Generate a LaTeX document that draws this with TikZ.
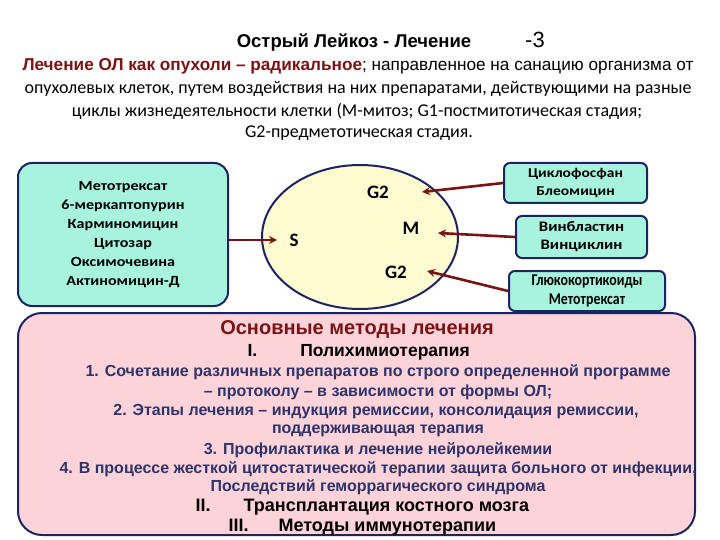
\documentclass[tikz,border=0pt]{standalone}
\usepackage{fontspec}
\setmainfont{Carlito}
\newfontfamily\arialfont{Liberation Sans}
\newfontfamily\boxfont[FakeStretch=1.15]{Carlito}
\newfontfamily\tightfont[FakeStretch=0.84]{Carlito}
\usetikzlibrary{arrows.meta}
\definecolor{navy}{RGB}{28,36,100}
\definecolor{aqua}{RGB}{168,243,222}
\definecolor{cellfill}{RGB}{255,252,210}
\definecolor{pinkfill}{RGB}{251,211,217}
\definecolor{darkred}{RGB}{122,20,20}
\definecolor{bluetext}{RGB}{46,52,105}

\begin{document}
\begin{tikzpicture}[x=1pt,y=-1pt,
    drug/.style={draw=navy, line width=2pt, fill=aqua, rounded corners=6pt, align=center,
      inner sep=0pt, font=\boxfont\bfseries\fontsize{14.5}{18}\selectfont},
    arr/.style={draw=darkred, line width=2.6pt, -{Stealth[length=8pt,width=8pt]}},
    phase/.style={font=\bfseries\fontsize{19}{19}\selectfont},
    para/.style={font=\fontsize{18}{18}\selectfont},
    method/.style={font=\arialfont\bfseries\fontsize{16}{16}\selectfont, text=bluetext}]
    \useasboundingbox (0,0) rectangle (720,540);
    \fill[white] (0,0) rectangle (720,540);

    % Title and intro text
    \node[font=\arialfont\bfseries\fontsize{18.5}{18.5}\selectfont] (title) at (354,43) {Острый Лейкоз - Лечение};
    \node[font=\arialfont\fontsize{22}{22}\selectfont] (num) at (535,40) {-3};
    \node[font=\arialfont\fontsize{17.2}{17.2}\selectfont] (l1) at (358,66)
      {\textcolor{darkred}{\bfseries Лечение ОЛ как опухоли – радикальное}; направленное на санацию организма от};
    \node[para] (l2) at (358,89) {опухолевых клеток, путем воздействия на них препаратами, действующими на разные};
    \node[para] (l3) at (357,111) {циклы жизнедеятельности клетки (М-митоз; G1-постмитотическая стадия;};
    \node[para] (l4) at (359,133) {G2-предметотическая стадия.};

    % Cell cycle
    \draw[navy, line width=2pt, fill=cellfill] (360,237) ellipse [x radius=98, y radius=72];
    \node[phase] (g2a) at (378,192) {G2};
    \node[phase] (m) at (411,228) {M};
    \node[phase] (s) at (294,240) {S};
    \node[phase] (g2b) at (396,272) {G2};

    % Drug boxes
    \node[drug, minimum width=210pt, minimum height=143pt, rounded corners=14pt,
      font=\boxfont\bfseries\fontsize{14}{19}\selectfont] (meds) at (123,234.5)
      {Метотрексат\\6-меркаптопурин\\Карминомицин\\Цитозар\\Оксимочевина\\Актиномицин-Д};
    \node[drug, minimum width=143pt, minimum height=40pt,
      font=\boxfont\bfseries\fontsize{13.5}{18}\selectfont] (cyc) at (575.5,183) {Циклофосфан\\Блеомицин};
    \node[drug, minimum width=131pt, minimum height=42pt] (vin) at (581.5,237) {Винбластин\\Винциклин};
    \node[drug, minimum width=156pt, minimum height=40pt,
      font=\tightfont\bfseries\fontsize{16.5}{19}\selectfont] (glu) at (587,291) {Глюкокортикоиды\\Метотрексат};

    % Arrows
    \coordinate (tS) at (277,240);
    \coordinate (tG2a) at (422,192);
    \coordinate (tM) at (438,233);
    \coordinate (tG2b) at (427,271);
    \draw[arr] (meds.east |- tS) -- (tS);
    \draw[arr] (cyc.west) -- (tG2a);
    \draw[arr] (vin.west) -- (tM);
    \draw[arr] (glu.west) -- (tG2b);

    % Methods
    \draw[navy, line width=2pt, fill=pinkfill, rounded corners=24pt] (18,313) rectangle (695,535);
    \node[font=\arialfont\bfseries\fontsize{20}{20}\selectfont, text=darkred] (head) at (357,330) {Основные методы лечения};
    \node[font=\arialfont\bfseries\fontsize{17.5}{17.5}\selectfont, anchor=west] (m1) at (244,352) {I.\hspace{43pt}Полихимиотерапия};
    \node[method] (t1) at (378,372) {1. Сочетание различных препаратов по строго определенной программе};
    \node[method] (t2) at (378,392) {– протоколу – в зависимости от формы ОЛ;};
    \node[method] (t3) at (376,412) {2. Этапы лечения – индукция ремиссии, консолидация ремиссии,};
    \node[method] (t4) at (378,431) {поддерживающая терапия};
    \node[method] (t5) at (378,450) {3. Профилактика и лечение нейролейкемии};
    \node[method] (t6) at (378,469) {4. В процессе жесткой цитостатической терапии защита больного от инфекции,};
    \node[method] (t7) at (378,487) {Последствий геморрагического синдрома};
    \node[font=\arialfont\bfseries\fontsize{18}{18}\selectfont, anchor=west] (m2) at (192,507) {II.\hspace{33pt}Трансплантация костного мозга};
    \node[font=\arialfont\bfseries\fontsize{18}{18}\selectfont, anchor=west] (m3) at (225,527) {III.\hspace{30pt}Методы иммунотерапии};
\end{tikzpicture}
\end{document}
